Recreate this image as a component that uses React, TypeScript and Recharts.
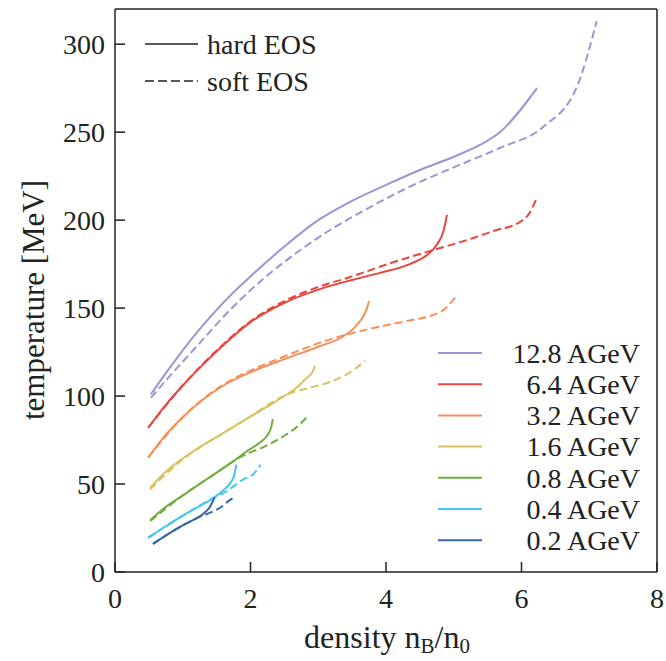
import React from 'react';
import { LineChart, Line, XAxis, YAxis, Customized } from 'recharts';

const FONT = "'Liberation Serif'";
const INK = '#222222';

const energies = ['12.8 AGeV', '6.4 AGeV', '3.2 AGeV', '1.6 AGeV', '0.8 AGeV', '0.4 AGeV', '0.2 AGeV'];
const colors = ['#9e93d6', '#e8453c', '#f5905a', '#d7c264', '#72ad3e', '#46c6ea', '#3766a8'];
const eosLabels = ['hard EOS', 'soft EOS'];

const xTicks = [0, 2, 4, 6, 8];
const yTicks = [0, 50, 100, 150, 200, 250, 300];

// [density, temperature]
const hard128 = [[0.53, 101], [0.75, 113], [1.0, 126], [1.25, 138], [1.5, 149], [1.75, 159], [2.0, 168], [2.5, 185], [3.0, 200], [3.5, 211], [4.0, 220], [4.5, 228.5], [5.0, 236], [5.4, 243], [5.68, 250], [6.23, 275]];
const soft128 = [[0.53, 99], [0.8, 111], [1.2, 128], [1.7, 149], [2.2, 167], [2.7, 182], [3.2, 195], [3.7, 206], [4.35, 219], [5.0, 230], [5.68, 241], [6.32, 253], [6.82, 276], [7.11, 313]];
const hard64 = [[0.49, 82], [0.75, 95], [1.0, 106], [1.25, 116], [1.6, 129], [2.0, 142], [2.5, 153], [3.0, 160.5], [3.5, 166], [3.91, 170], [4.35, 175], [4.6, 180], [4.75, 186], [4.85, 194], [4.9, 203]];
const soft64 = [[0.49, 82], [1.0, 106], [1.6, 129.5], [2.0, 142.5], [2.5, 154], [3.0, 162], [3.5, 168], [3.91, 173.5], [4.35, 179], [4.7, 183], [5.3, 190], [5.6, 194], [5.98, 199], [6.1, 203], [6.23, 213]];
const hard32 = [[0.49, 65], [0.75, 78], [1.0, 88], [1.25, 96.5], [1.6, 106], [2.0, 113.5], [2.5, 121], [3.0, 128], [3.37, 134], [3.55, 139.5], [3.66, 145], [3.72, 150], [3.75, 154]];
const soft32 = [[0.49, 65], [1.0, 88], [1.6, 106.5], [2.0, 114.5], [2.5, 122.5], [3.0, 130], [3.47, 135.5], [3.91, 139.5], [4.35, 143], [4.65, 145.5], [4.85, 149], [5.02, 156]];
const hard16 = [[0.52, 48], [0.75, 57], [1.0, 64.5], [1.25, 71], [1.6, 79], [1.94, 87], [2.25, 94], [2.54, 101], [2.7, 105.5], [2.82, 110], [2.92, 114], [2.95, 117]];
const soft16 = [[0.52, 47], [1.0, 64], [1.6, 79], [1.94, 87], [2.54, 101], [2.85, 104.5], [3.17, 108], [3.45, 113], [3.69, 120]];
const hard08 = [[0.52, 29.5], [0.75, 37], [1.0, 43.5], [1.25, 50], [1.5, 56.5], [1.75, 63], [1.94, 68.5], [2.1, 72.5], [2.2, 75.5], [2.27, 79], [2.31, 83], [2.33, 87]];
const soft08 = [[0.52, 29], [1.0, 43.5], [1.5, 56.5], [1.75, 63], [1.94, 67], [2.19, 71], [2.48, 77], [2.7, 83], [2.83, 88]];
const hard04 = [[0.49, 19.5], [0.75, 26], [1.0, 32], [1.25, 37.5], [1.45, 42], [1.6, 46.5], [1.7, 50.5], [1.76, 55], [1.79, 61]];
const soft04 = [[0.49, 19.5], [1.0, 32], [1.45, 42], [1.65, 46], [1.89, 52.5], [2.05, 56], [2.15, 61]];
const hard02 = [[0.56, 16], [0.8, 22], [1.0, 26.5], [1.2, 30.5], [1.3, 33], [1.4, 37], [1.47, 42.5]];
const soft02 = [[0.56, 16], [1.0, 26.5], [1.2, 30.5], [1.36, 33], [1.55, 36.5], [1.7, 41], [1.74, 42]];

const hardSeries = [hard128, hard64, hard32, hard16, hard08, hard04, hard02];
const softSeries = [soft128, soft64, soft32, soft16, soft08, soft04, soft02];

const toData = (pts: number[][]) => pts.map(([x, y]) => ({ x, y }));

const serif = { fontFamily: FONT };

const XTick = (p: any) => (
  <text x={p.x} y={p.y} dy="0.71em" textAnchor="middle" fontSize={28} fill={INK} fontFamily="Liberation Serif" style={serif}>{p.payload.value}</text>
);
const YTick = (p: any) => (
  <text x={p.x} y={p.y} dy="0.355em" textAnchor="end" fontSize={28} fill={INK} fontFamily="Liberation Serif" style={serif}>{p.payload.value}</text>
);

const Overlay = () => (
  <g fill={INK}>
    {eosLabels.map((lab, i) => (
      <g key={lab}>
        <line x1={145} x2={198} y1={44 + i * 37} y2={44 + i * 37} stroke={INK} strokeWidth={1.5} strokeDasharray={i === 1 ? '9 4' : undefined} />
        <text x={207} y={44 + i * 37} dy="0.35em" fontSize={28} style={serif}>{lab}</text>
      </g>
    ))}
    {energies.map((lab, i) => (
      <g key={lab}>
        <line x1={438} x2={482} y1={353 + i * 31.2} y2={353 + i * 31.2} stroke={colors[i]} strokeWidth={2} />
        <text x={640} y={353 + i * 31.2} dy="0.35em" fontSize={28} textAnchor="end" style={serif}>{lab}</text>
      </g>
    ))}
    <text x={387} y={648} fontSize={32} textAnchor="middle" style={serif}>
      density n<tspan fontSize={21} dy={5}>B</tspan><tspan dy={-5}>/n</tspan><tspan fontSize={21} dy={5}>0</tspan>
    </text>
    <text x={33} y={300} dy="0.35em" fontSize={31} textAnchor="middle" transform="rotate(-90 33 300)" style={serif}>
      temperature [MeV]
    </text>
  </g>
);

export default function App() {
  const axisStroke = { stroke: INK, strokeWidth: 1.5 };
  return (
    <div style={{ position: 'absolute', left: 0, top: 0, background: '#fff' }}>
      <style>{`svg text, svg tspan { font-family: 'Liberation Serif' !important; }`}</style>
      <LineChart width={666} height={661} margin={{ top: 8, right: 8, bottom: 0, left: 0 }}>
        <XAxis xAxisId="b" dataKey="x" type="number" domain={[0, 8]} ticks={xTicks} orientation="bottom" height={89}
          tickSize={-10} tickMargin={26} axisLine={axisStroke} tickLine={axisStroke} tick={XTick} allowDataOverflow />
        <XAxis xAxisId="t" dataKey="x" type="number" domain={[0, 8]} ticks={xTicks} orientation="top" height={1}
          tickSize={-10} axisLine={axisStroke} tickLine={axisStroke} tick={false} allowDataOverflow />
        <YAxis yAxisId="l" type="number" domain={[0, 320]} ticks={yTicks} orientation="left" width={115}
          tickSize={-10} tickMargin={20} axisLine={axisStroke} tickLine={axisStroke} tick={YTick} allowDataOverflow />
        <YAxis yAxisId="r" type="number" domain={[0, 320]} ticks={yTicks} orientation="right" width={1}
          tickSize={-10} axisLine={axisStroke} tickLine={axisStroke} tick={false} allowDataOverflow />
        {softSeries.map((s, i) => (
          <Line key={'s' + i} xAxisId="b" yAxisId="l" data={toData(s)} dataKey="y" type="monotone" stroke={colors[i]}
            strokeWidth={2} strokeDasharray="8 4" dot={false} isAnimationActive={false} />
        ))}
        {hardSeries.map((s, i) => (
          <Line key={'h' + i} xAxisId="b" yAxisId="l" data={toData(s)} dataKey="y" type="monotone" stroke={colors[i]}
            strokeWidth={2} dot={false} isAnimationActive={false} />
        ))}
        <Customized component={Overlay} />
      </LineChart>
    </div>
  );
}
